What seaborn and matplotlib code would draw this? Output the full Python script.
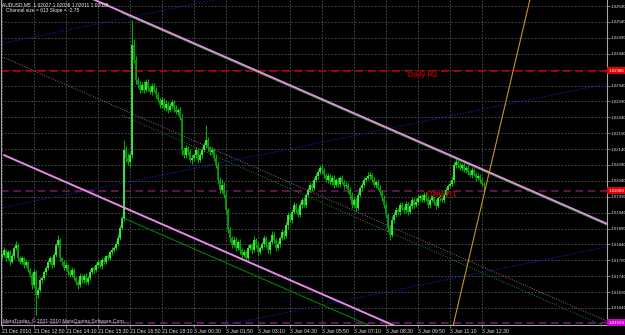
import matplotlib
matplotlib.use("Agg")
import matplotlib.pyplot as plt
import matplotlib.patheffects as pe
import numpy as np
import pandas as pd
import seaborn as sns

# ---------------- data ----------------
symbol = "AUDUSD,M5"
header_ohlc = ["1.02027", "1.02036", "1.02011", "1.02028"]
channel_size = 613
channel_slope = -2.75

# prices stored in points (1e-5) above 1.00000
first_open_pts = 1800
close_pts = [
    1807, 1822, 1797, 1816, 1785, 1803, 1829, 1838, 1797, 1785,
    1797, 1775, 1785, 1760, 1744, 1712, 1753, 1681, 1697, 1728,
    1734, 1753, 1766, 1785, 1797, 1775, 1807, 1838, 1854, 1797,
    1785, 1766, 1775, 1753, 1744, 1760, 1734, 1722, 1712, 1741,
    1728, 1741, 1722, 1734, 1753, 1766, 1760, 1775, 1785, 1772,
    1791, 1785, 1803, 1797, 1816, 1822, 1829, 1841, 1860, 1892,
    1923, 2137, 2112, 2099, 2121, 2467, 2420, 2357, 2342, 2326,
    2342, 2326, 2351, 2332, 2320, 2338, 2326, 2310, 2294, 2279,
    2294, 2269, 2282, 2263, 2276, 2288, 2269, 2257, 2263, 2238,
    2137, 2121, 2143, 2131, 2106, 2112, 2121, 2137, 2106, 2121,
    2137, 2153, 2169, 2143, 2131, 2137, 2112, 2090, 2043, 2011,
    2027, 1996, 1948, 1885, 1860, 1838, 1854, 1829, 1848, 1822,
    1807, 1816, 1797, 1829, 1838, 1822, 1854, 1838, 1816, 1829,
    1841, 1860, 1838, 1822, 1848, 1870, 1854, 1829, 1841, 1860,
    1879, 1867, 1901, 1933, 1917, 1942, 1964, 1948, 1933, 1964,
    1980, 1964, 1996, 2011, 2027, 2018, 2043, 2055, 2068, 2080,
    2074, 2058, 2043, 2055, 2036, 2049, 2027, 2043, 2030, 2049,
    2036, 2024, 2027, 2011, 1996, 1964, 1980, 1955, 1996, 2018,
    2027, 2043, 2049, 2055, 2058, 2043, 2027, 2036, 2018, 2005,
    1986, 1964, 1933, 1892, 1870, 1917, 1933, 1948, 1942, 1964,
    1955, 1948, 1967, 1942, 1961, 1980, 1964, 1974, 1986, 1992,
    1980, 1996, 1986, 1964, 1980, 1992, 1974, 1961, 1986, 1996,
    1980, 1996, 2011, 2024, 2030, 2043, 2090, 2099, 2090, 2080,
    2090, 2074, 2080, 2068, 2058, 2074, 2061, 2049, 2055, 2043,
    2030, 2028,
]
wick_up = [
    6, 9, 4, 8, 5, 10, 7, 12, 5, 6,
    8, 5, 9, 4, 7, 6, 10, 5, 8, 9,
    6, 8, 5, 9, 7, 4, 10, 8, 16, 6,
    5, 7, 9, 4, 6, 8, 5, 7, 6, 9,
    7, 5, 8, 6, 9, 4, 7, 6, 8, 5,
    6, 9, 5, 8, 7, 10, 6, 9, 12, 10,
    8, 32, 12, 15, 10, 79, 20, 14, 10, 12,
    9, 12, 8, 10, 7, 11, 9, 8, 10, 7,
    9, 8, 11, 6, 10, 8, 7, 9, 6, 10,
    12, 8, 10, 7, 9, 11, 8, 10, 6, 9,
    8, 10, 47, 9, 7, 10, 6, 12, 8, 10,
    20, 8, 10, 6, 9, 7, 12, 8, 6, 10,
    7, 9, 5, 10, 8, 6, 11, 7, 9, 6,
    8, 10, 6, 9, 7, 12, 8, 6, 10, 7,
    9, 6, 10, 8, 7, 11, 9, 6, 8, 10,
    7, 9, 6, 10, 8, 7, 9, 11, 8, 10,
    12, 8, 6, 9, 7, 10, 8, 6, 9, 7,
    8, 6, 10, 7, 9, 8, 11, 7, 9, 6,
    10, 8, 7, 12, 9, 6, 8, 7, 10, 9,
    7, 9, 8, 6, 10, 12, 8, 9, 7, 10,
    8, 7, 10, 6, 9, 8, 7, 11, 9, 8,
    7, 9, 8, 10, 6, 9, 7, 8, 10, 7,
    9, 8, 10, 7, 9, 11, 10, 13, 8, 9,
    7, 10, 8, 9, 6, 10, 8, 7, 9, 6,
    6, 6,
]
wick_dn = [
    7, 5, 9, 6, 10, 5, 8, 6, 9, 7,
    6, 10, 5, 8, 7, 12, 6, 63, 9, 7,
    8, 6, 9, 5, 7, 10, 6, 8, 7, 9,
    10, 7, 6, 9, 8, 5, 7, 10, 12, 6,
    8, 9, 6, 10, 7, 5, 9, 8, 6, 7,
    9, 6, 8, 5, 7, 9, 6, 8, 7, 5,
    6, 10, 12, 9, 14, 8, 10, 12, 9, 11,
    8, 10, 7, 9, 6, 11, 8, 10, 7, 9,
    10, 7, 9, 8, 6, 9, 11, 7, 10, 8,
    15, 9, 8, 10, 7, 12, 9, 8, 10, 7,
    9, 7, 10, 8, 11, 6, 9, 10, 12, 8,
    10, 9, 12, 8, 11, 9, 7, 10, 8, 12,
    9, 7, 10, 6, 8, 11, 7, 9, 8, 6,
    8, 10, 7, 9, 11, 6, 8, 10, 7, 9,
    7, 9, 6, 11, 8, 10, 7, 9, 8, 6,
    9, 7, 10, 8, 6, 9, 7, 8, 10, 7,
    8, 10, 7, 9, 6, 8, 11, 7, 9, 8,
    7, 9, 8, 10, 12, 9, 7, 10, 8, 6,
    9, 7, 8, 6, 10, 8, 7, 9, 8, 10,
    9, 8, 10, 12, 16, 8, 9, 7, 10, 8,
    7, 9, 8, 10, 6, 9, 8, 7, 9, 10,
    8, 7, 10, 9, 8, 6, 10, 8, 7, 9,
    8, 10, 7, 9, 8, 6, 9, 8, 10, 7,
    9, 7, 8, 10, 6, 9, 7, 8, 6, 9,
    7, 17,
]

time_labels = ["21 Dec 2010", "21 Dec 12:50", "21 Dec 14:10", "21 Dec 15:30",
               "21 Dec 16:50", "21 Dec 18:10", "3 Jan 00:30", "3 Jan 01:50",
               "3 Jan 03:10", "3 Jan 04:30", "3 Jan 05:50", "3 Jan 07:10",
               "3 Jan 08:30", "3 Jan 09:50", "3 Jan 11:10", "3 Jan 12:30"]
time_label_bars = [0, 16, 32, 48, 64, 80, 96, 112, 128, 144, 160, 176, 192, 208, 224, 240]

price_ticks = [1.02590, 1.02540, 1.02490, 1.02440, 1.02390, 1.02340, 1.02290,
               1.02240, 1.02190, 1.02140, 1.02090, 1.02040, 1.01990, 1.01940,
               1.01890, 1.01840, 1.01790, 1.01740, 1.01690, 1.01640]
# 1.02390 is hidden under the Daily R2 price box in the reference
price_tick_labels = ["1.02590", "1.02540", "1.02490", "1.02440", "", "1.02340", "1.02290",
                     "1.02240", "1.02190", "1.02140", "1.02090", "1.02040", "1.01990", "1.01940",
                     "1.01890", "1.01840", "1.01790", "1.01740", "1.01690", "1.01640"]

# horizontal levels
level_names = ["Daily R2", "Daily R1", ""]
level_prices = [1.02386, 1.02009, 1.01593]
level_line_colors = ["#c80000", "#7a1a5e", "#7a1a7a"]
level_box_colors = ["#e00000", "#e00000", "#d000d0"]

# trend objects: anchor bar index and price (points) at start / end
pink_bars = [1, 303]
pink_upper = [2734, 1903.5]
pink_lower = [2121, 1290.5]
pink_mid = [2427.5, 1597]
green_bars = [60, 303]
green_upper = [2568, 1899.5]
green_lower = [1925, 1256.75]
green_mid = [2246.5, 1578]
blue_bars = [-1, 303]
blue_a = [2471, 2863]
blue_b = [1954, 2346]
blue_c = [1441, 1833]
gold_bars = [224, 266]
gold_vals = [1543, 2665]


def px(v):
    return 1.0 + np.asarray(v, dtype=float) / 1e5


# ---------------- figure ----------------
sns.set_theme(style="dark")
plt.rcParams["font.family"] = ["Liberation Sans", "DejaVu Sans"]

W, H = 625, 335
fig = plt.figure(figsize=(W / 100, H / 100), dpi=100, facecolor="black")
ax = fig.add_axes([1 / W, 10 / H, 606 / W, 325 / H])
ax.set_facecolor("black")

n = len(close_pts)
bars = np.arange(n)
closes = np.array(close_pts, dtype=float)
opens = np.concatenate([[first_open_pts], closes[:-1]])
highs = np.maximum(opens, closes) + np.array(wick_up)
lows = np.minimum(opens, closes) - np.array(wick_dn)

ax.set_xlim(-0.5, 302.5)
ax.set_ylim(px(1586.5), px(2609))

# grid
ax.set_xticks(time_label_bars)
ax.set_yticks(price_ticks)
ax.grid(True, color="#4e5757", linestyle=(0, (2, 2)), linewidth=0.6)
ax.set_axisbelow(True)

# horizontal levels
for price, col in zip(level_prices, level_line_colors):
    ax.axhline(price, color=col, lw=1.1, ls=(0, (5, 3)), zorder=2)


def seg(xs, vs, color, lw, ls="-", z=3):
    df = pd.DataFrame({"bar": xs, "price": px(vs)})
    sns.lineplot(data=df, x="bar", y="price", ax=ax, color=color, lw=lw,
                 linestyle=ls, sort=False, estimator=None, zorder=z, legend=False)


# blue equidistant channel
for vals in (blue_a, blue_b, blue_c):
    seg(blue_bars, vals, "#1a1ad0", 0.8, (0, (1, 1.5)), 2)
# mid lines
seg(pink_bars, pink_mid, "#a060a0", 0.7, (0, (1, 1.5)), 2)
seg(green_bars, green_mid, "#1f8a1f", 0.7, (0, (1, 1.5)), 2)
# green channel
seg(green_bars, green_lower, "#0a7a0a", 0.8, "-", 3)
seg(green_bars, green_upper, "#0a8a0a", 0.8, "-", 3)

# candles
up = closes >= opens
ax.vlines(bars, px(lows), px(highs), color="#00b000", lw=0.75, zorder=4)
ax.vlines(bars[up], px(opens[up]), px(closes[up]), color="#4cf04c", lw=1.25, zorder=5)
ax.vlines(bars[~up], px(closes[~up]), px(opens[~up]), color="#0c9a0c", lw=1.25, zorder=5)

# pink regression channel
seg(pink_bars, pink_upper, "#e68ae6", 1.4, "-", 6)
seg(pink_bars, pink_lower, "#e68ae6", 1.4, "-", 6)
# goldenrod trendline
seg(gold_bars, gold_vals, "#c8961e", 0.8, "-", 6)

# level names
stroke = [pe.withStroke(linewidth=0.8, foreground="#200000")]
ax.text(203, px(2372), level_names[0], color="#d00000", fontsize=5.6, va="center",
        ha="left", zorder=9, path_effects=stroke)
ax.text(212.5, px(1996), level_names[1], color="#e01010", fontsize=5.6, va="center",
        ha="left", zorder=9, path_effects=stroke)

# axes styling
ax.spines["top"].set_visible(False)
for s in ["left", "right", "bottom"]:
    ax.spines[s].set_color("#a8a8a8")
    ax.spines[s].set_linewidth(0.8)
ax.yaxis.tick_right()
ax.set_yticklabels(price_tick_labels)
ax.tick_params(axis="y", colors="#a8a8a8", labelcolor="#e0e0e0", labelsize=3.2,
               length=2, width=0.5, pad=0.8, right=True, left=False)
ax.set_xticklabels(time_labels)
ax.tick_params(axis="x", colors="#a8a8a8", labelcolor="#e0e0e0", labelsize=3.7,
               length=2, width=0.5, pad=1.0, bottom=True)
for lab in ax.get_xticklabels():
    lab.set_horizontalalignment("left")
ax.set_xlabel("")
ax.set_ylabel("")

# level price boxes on right axis
for price, col in zip(level_prices, level_box_colors):
    ax.annotate("%.5f" % price, xy=(1.0, price), xycoords=("axes fraction", "data"),
                xytext=(0.9, 0), textcoords="offset points", va="center", ha="left",
                fontsize=3.2, color="white", annotation_clip=False, zorder=10,
                bbox=dict(boxstyle="square,pad=0.35", fc=col, ec="none"))

# header and footer texts
fig.text(2 / W, 1 - 4.5 / H, "%s  %s" % (symbol, " ".join(header_ohlc)),
         color="#f0f0f0", fontsize=3.5, va="center", ha="left")
fig.text(6 / W, 1 - 10.5 / H, "Channel size = %d Slope = %.2f" % (channel_size, channel_slope),
         color="#f0f0f0", fontsize=3.5, va="center", ha="left")
fig.text(3 / W, 1 - 321.5 / H, "MetaTrader, \u00a9 2001-2010 MetaQuotes Software Corp.",
         color="#d0d0d0", fontsize=3.6, va="center", ha="left")

fig.savefig("out.png", dpi=100, facecolor="black")
